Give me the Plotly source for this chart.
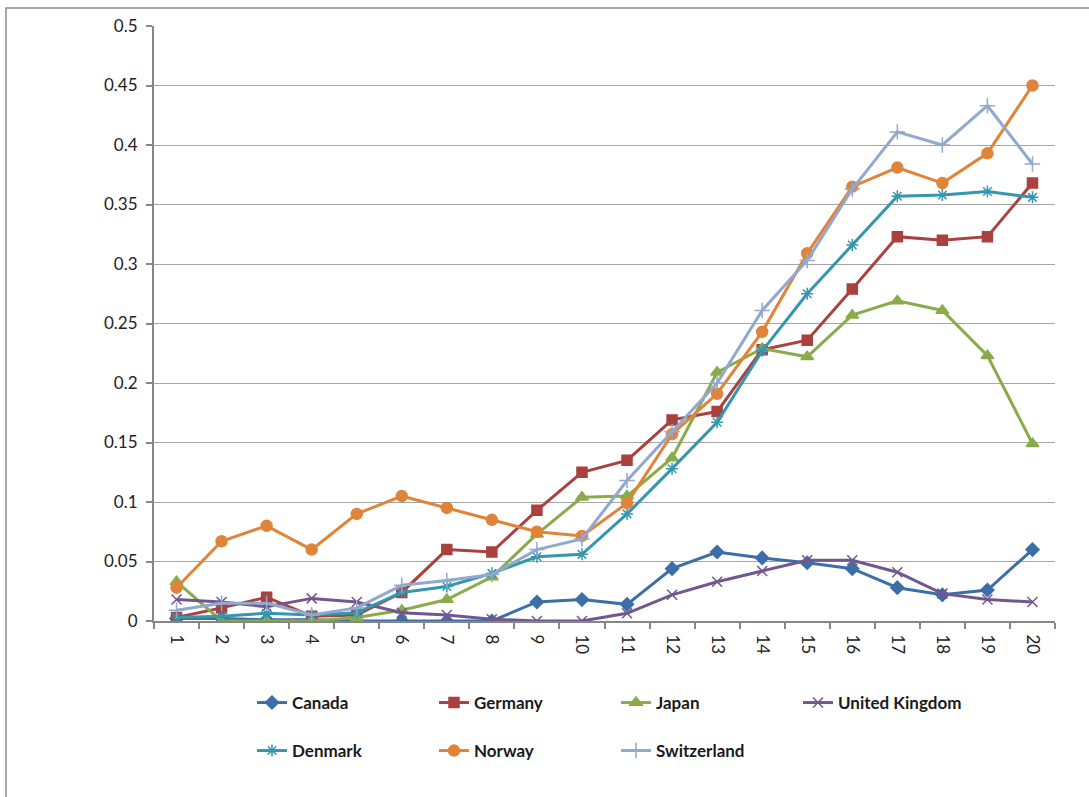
import plotly.graph_objects as go

# Categories along the x axis
categories = [str(i) for i in range(1, 21)]

# Series values
canada = [0.002, 0.002, 0.001, 0.001, 0, 0, 0, 0, 0.016, 0.018,
          0.014, 0.044, 0.058, 0.053, 0.049, 0.044, 0.028, 0.022, 0.026, 0.060]
germany = [0.003, 0.011, 0.020, 0.004, 0.005, 0.024, 0.060, 0.058, 0.093, 0.125,
           0.135, 0.169, 0.176, 0.228, 0.236, 0.279, 0.323, 0.320, 0.323, 0.368]
japan = [0.033, 0, 0, 0, 0.003, 0.009, 0.018, 0.037, 0.073, 0.104,
         0.105, 0.137, 0.209, 0.229, 0.222, 0.257, 0.269, 0.261, 0.223, 0.149]
united_kingdom = [0.018, 0.016, 0.012, 0.019, 0.016, 0.007, 0.005, 0.0015, 0, 0,
                  0.0065, 0.022, 0.033, 0.042, 0.051, 0.051, 0.041, 0.023, 0.018, 0.016]
denmark = [0.003, 0.004, 0.0065, 0.005, 0.007, 0.024, 0.029, 0.040, 0.054, 0.056,
           0.090, 0.128, 0.167, 0.227, 0.275, 0.316, 0.357, 0.358, 0.361, 0.356]
norway = [0.028, 0.067, 0.080, 0.060, 0.090, 0.105, 0.095, 0.085, 0.075, 0.0715,
          0.099, 0.157, 0.191, 0.243, 0.309, 0.365, 0.381, 0.368, 0.393, 0.450]
switzerland = [0.009, 0.015, 0.015, 0.005, 0.011, 0.030, 0.034, 0.039, 0.060, 0.069,
               0.118, 0.159, 0.200, 0.261, 0.303, 0.363, 0.411, 0.400, 0.433, 0.384]

y_ticks = [0, 0.05, 0.1, 0.15, 0.2, 0.25, 0.3, 0.35, 0.4, 0.45, 0.5]
y_tick_text = ["0", "0.05", "0.1", "0.15", "0.2", "0.25", "0.3", "0.35", "0.4", "0.45", "0.5"]

series = [
    ("Canada", canada, "#3C6EA8", "diamond", 10, "legend"),
    ("Germany", germany, "#A9413E", "square", 10, "legend"),
    ("Japan", japan, "#8AAB4B", "triangle-up", 11, "legend"),
    ("United Kingdom", united_kingdom, "#71578F", "x-thin-open", 10, "legend"),
    ("Denmark", denmark, "#3596AD", "asterisk-open", 10, "legend2"),
    ("Norway", norway, "#E0843A", "circle", 11, "legend2"),
    ("Switzerland", switzerland, "#91A8CF", "cross-thin-open", 11, "legend2"),
]

fig = go.Figure()
for name, vals, color, symbol, size, leg in series:
    fig.add_trace(go.Scatter(
        x=categories, y=vals, name=name, mode="lines+markers",
        line=dict(color=color, width=3),
        marker=dict(symbol=symbol, size=size, color=color,
                    line=dict(color=color, width=1.5)),
        legend=leg,
    ))

W, H = 1089, 797
L, R, T, B = 154, 34, 26, 176
pw, ph = W - L - R, H - T - B

def px_x(p):
    return (p - L) / pw

def px_y(p):
    return (H - B - p) / ph

legend_font = dict(family="Lato, 'Open Sans', sans-serif", size=17, color="#1a1a1a", weight="bold")

fig.update_layout(
    width=W, height=H,
    margin=dict(l=L, r=R, t=T, b=B),
    paper_bgcolor="white", plot_bgcolor="white",
    font=dict(family="Lato, 'Open Sans', sans-serif", size=17, color="#222"),
    xaxis=dict(
        type="category", range=[-0.5, 19.5],
        showline=True, linecolor="#868686", linewidth=2,
        ticks="outside", ticklen=6, tickcolor="#868686", tickwidth=1.5,
        tickson="boundaries", tickangle=90, showgrid=False,
        tickfont=dict(size=17, color="#222"),
        ticklabelstandoff=8,
    ),
    yaxis=dict(
        range=[0, 0.5], tickvals=y_ticks, ticktext=y_tick_text,
        showline=True, linecolor="#868686", linewidth=2,
        ticks="outside", ticklen=6, tickcolor="#868686", tickwidth=1.5,
        showgrid=True, gridcolor="#A6A6A6", gridwidth=1.2,
        zeroline=False, tickfont=dict(size=17, color="#222"),
        ticklabelstandoff=5,
    ),
    legend=dict(
        orientation="h", x=px_x(252), xanchor="left", y=px_y(703), yanchor="middle",
        entrywidth=137, entrywidthmode="pixels", font=legend_font,
        bgcolor="rgba(0,0,0,0)", itemclick=False, itemdoubleclick=False,
    ),
    legend2=dict(
        orientation="h", x=px_x(252), xanchor="left", y=px_y(751), yanchor="middle",
        entrywidth=137, entrywidthmode="pixels", font=legend_font,
        bgcolor="rgba(0,0,0,0)", itemclick=False, itemdoubleclick=False,
    ),
    showlegend=True,
)

# Outer chart frame
fig.add_shape(
    type="rect", xref="paper", yref="paper",
    x0=px_x(6), x1=px_x(1100), y0=px_y(810), y1=px_y(8),
    line=dict(color="#8C8C8C", width=1.5), fillcolor="rgba(0,0,0,0)", layer="below",
)

fig.write_html("out.html")
